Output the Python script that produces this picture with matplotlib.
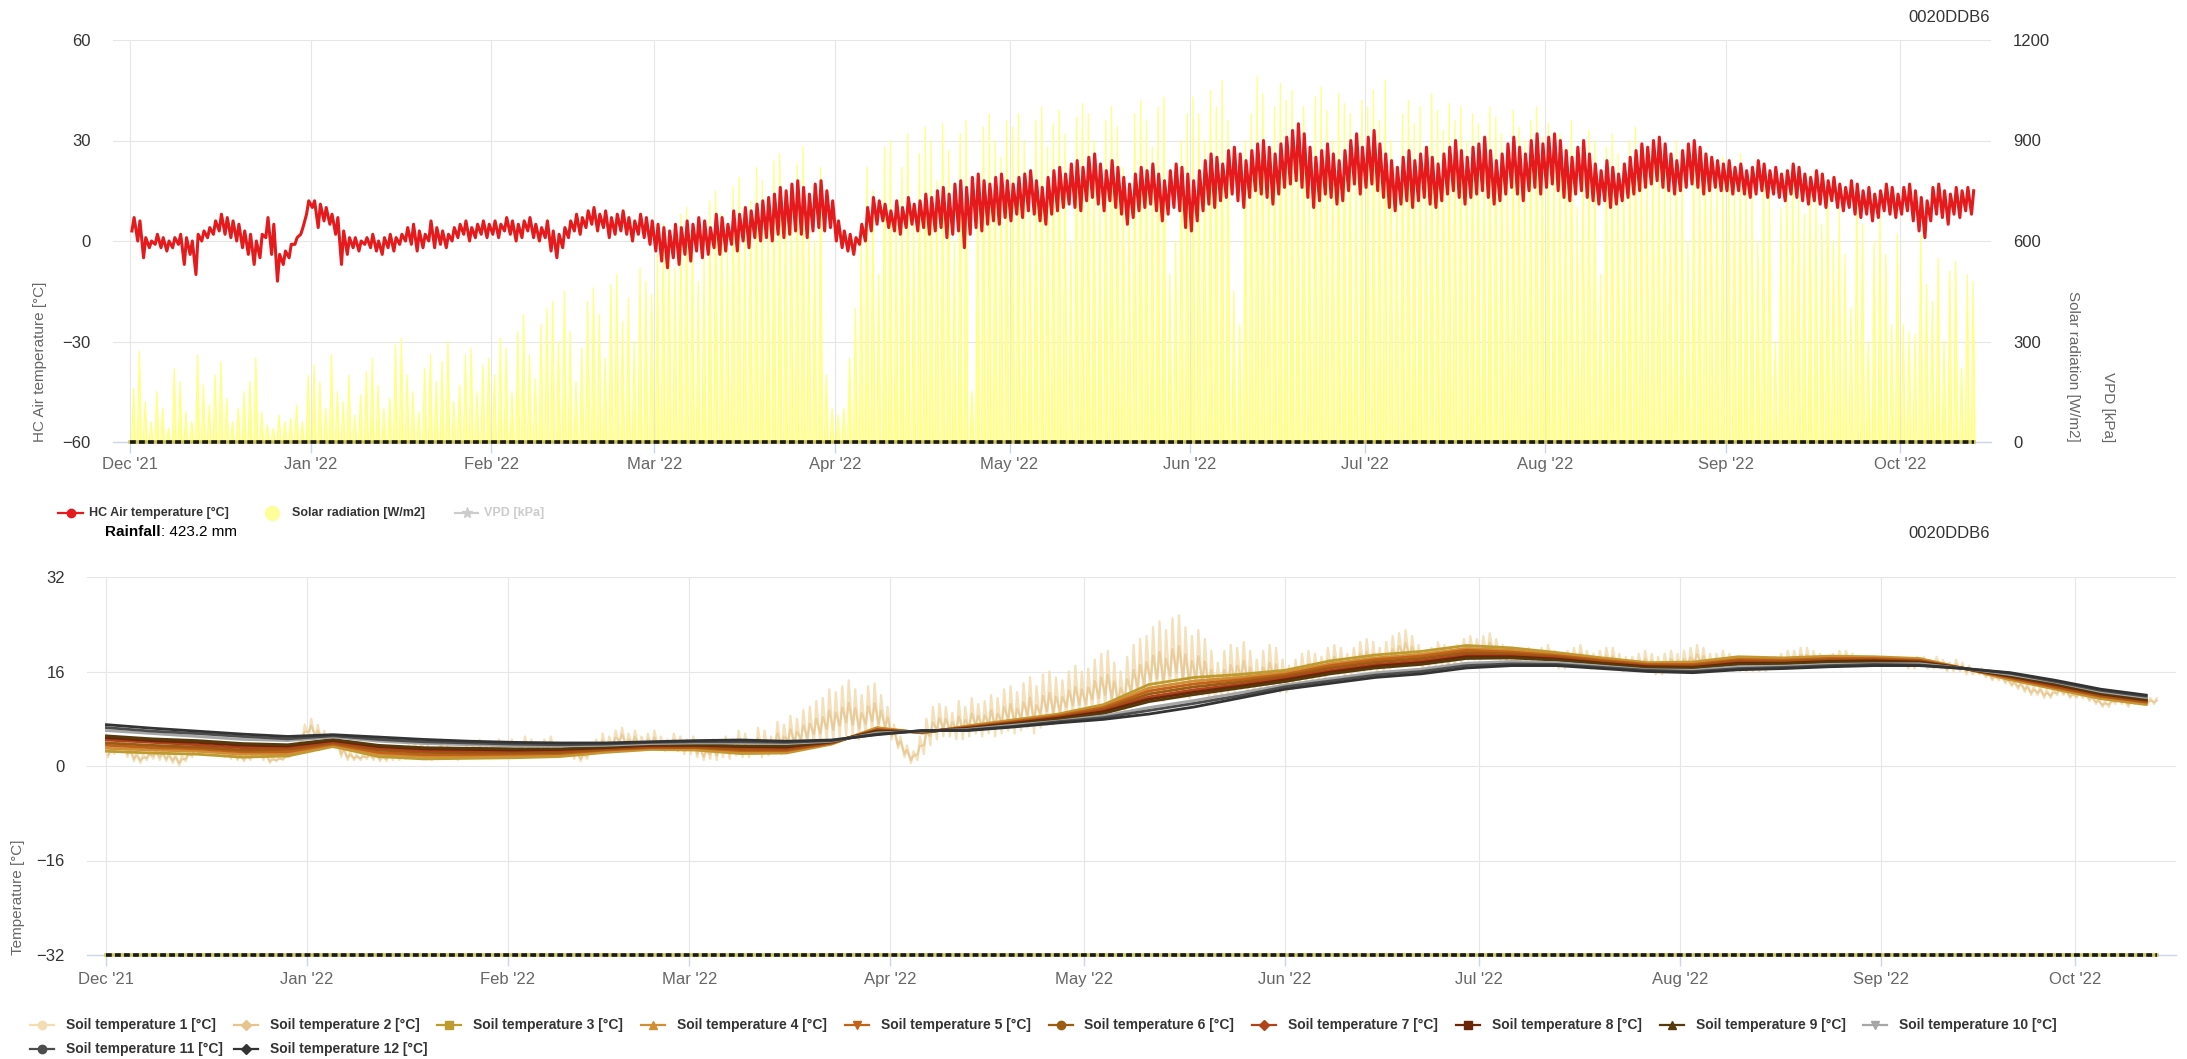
import numpy as np
import pandas as pd
import matplotlib
matplotlib.use("Agg")
import matplotlib.pyplot as plt
import matplotlib.dates as mdates

plt.rcParams['font.family'] = ['Liberation Sans', 'DejaVu Sans']

# --- data ---
START = '2021-12-01'
STATION = '0020DDB6'
RAINFALL_MM = 423.2

# HC air temperature, daily high / low [°C]  (Dec .. Oct 13)
AIR_HI = [
    7, 6, 1, 0, 2, 1, 0, 1, 2, 1, 0, 2, 3, 4, 6, 8, 7, 6, 5, 3, 2, 0, 2, 7, 5, -4, -3, -1, 1, 4, 12,
    12, 11, 10, 8, 7, 3, 1, 1, 0, 1, 2, 0, 1, 2, 1, 2, 4, 5, 3, 2, 6, 4, 3, 2, 4, 5, 6, 4, 5, 6, 5,
    6, 5, 7, 6, 5, 6, 7, 5, 4, 6, 3, 2, 4, 6, 8, 7, 9, 10, 8, 9, 7, 8, 9, 7, 6, 8, 7, 6,
    5, 4, 3, 5, 4, 6, 5, 7, 6, 4, 8, 7, 5, 9, 8, 10, 9, 11, 12, 13, 14, 16, 15, 17, 18, 16, 14, 17, 18, 15, 12,
    6, 3, 2, 1, 5, 10, 13, 12, 11, 9, 12, 10, 13, 11, 12, 14, 13, 15, 16, 14, 17, 18, 16, 19, 20, 18, 17, 19, 20, 18,
    17, 19, 20, 21, 18, 16, 19, 21, 22, 20, 23, 24, 22, 25, 26, 23, 21, 24, 22, 19, 17, 20, 22, 21, 23, 20, 18, 21, 23, 22, 20,
    18, 21, 24, 26, 25, 23, 27, 28, 26, 24, 27, 29, 30, 28, 26, 29, 31, 33, 35, 32, 28, 25, 27, 29, 26, 24, 27, 30, 32, 28,
    31, 33, 29, 26, 24, 22, 25, 27, 24, 26, 28, 25, 23, 26, 28, 30, 27, 25, 28, 29, 31, 27, 24, 26, 29, 31, 28, 26, 30, 32, 29,
    31, 32, 30, 27, 25, 28, 30, 26, 23, 21, 24, 22, 20, 23, 25, 27, 29, 28, 30, 31, 29, 26, 24, 27, 29, 30, 28, 26, 25, 24, 23,
    24, 22, 23, 21, 22, 24, 23, 21, 22, 20, 21, 23, 22, 20, 19, 21, 20, 18, 19, 17, 16, 18, 17, 15, 16, 14, 15, 17, 16, 14,
    16, 17, 15, 13, 12, 16, 17, 15, 14, 16, 15, 16, 15,
]
AIR_LO = [
    3, 0, -5, -2, -1, -2, -3, -2, -1, -7, -4, -10, 0, 1, 2, 3, 2, 1, 0, -2, -4, -7, -5, 1, -4, -12, -7, -5, -1, 2, 8,
    10, 4, 6, 5, 2, -7, -4, -2, -3, -1, -2, -3, -4, -2, -3, -1, 0, -1, -3, -2, 0, -2, -1, -2, 0, 1, 2, 0, 1, 2, 1,
    2, 1, 3, 2, 0, 1, 3, 1, 0, 1, -3, -5, -2, 1, 3, 2, 4, 5, 3, 4, 1, 2, 3, 2, 0, 2, 1, -1,
    -3, -6, -8, -5, -7, -4, -6, -3, -5, -4, -2, -4, -3, -1, -3, 0, -2, 1, 0, 1, 0, 2, 1, 2, 3, 2, 1, 3, 4, 3, 4,
    0, -2, -3, -4, -1, 0, 3, 5, 6, 4, 3, 2, 4, 5, 3, 4, 2, 3, 4, 1, 2, 3, -2, 2, 4, 3, 5, 6, 5, 7,
    6, 8, 7, 9, 8, 6, 5, 8, 9, 10, 11, 10, 9, 12, 13, 11, 9, 12, 10, 8, 5, 7, 9, 10, 11, 9, 6, 8, 10, 9, 4,
    3, 6, 9, 11, 10, 12, 13, 14, 12, 10, 13, 15, 14, 13, 11, 14, 16, 17, 18, 16, 13, 10, 12, 14, 13, 11, 12, 15, 17, 14,
    16, 17, 15, 13, 10, 9, 11, 12, 10, 12, 13, 11, 10, 12, 14, 15, 13, 11, 13, 14, 15, 13, 11, 12, 14, 16, 14, 12, 15, 16, 14,
    16, 17, 15, 13, 12, 14, 15, 13, 12, 11, 12, 10, 11, 12, 13, 14, 15, 16, 17, 18, 16, 15, 14, 15, 16, 17, 16, 14, 15, 16, 15,
    15, 14, 15, 14, 13, 14, 15, 13, 14, 13, 12, 14, 13, 12, 11, 12, 11, 10, 12, 10, 9, 10, 8, 7, 8, 6, 7, 9, 8, 7,
    8, 9, 6, 3, 1, 6, 8, 7, 5, 8, 7, 9, 8,
]

# Solar radiation, daily peak [W/m2]
SOLAR_PEAK = [
    160, 270, 120, 60, 150, 100, 40, 220, 180, 90, 60, 260, 170, 110, 200, 240, 130, 60, 100, 150, 180, 250, 90, 50, 40, 80, 60, 70, 110, 60, 200,
    230, 180, 100, 260, 150, 120, 200, 80, 140, 210, 250, 170, 100, 130, 290, 310, 200, 150, 90, 220, 260, 180, 240, 300, 120, 170, 260, 280, 150, 230, 250,
    200, 310, 280, 150, 330, 380, 260, 190, 350, 400, 420, 300, 450, 330, 180, 280, 420, 460, 380, 250, 470, 500, 360, 430, 300, 520, 480, 440,
    560, 650, 600, 520, 680, 700, 620, 480, 550, 720, 750, 680, 590, 760, 790, 640, 720, 820, 780, 700, 840, 860, 750, 700, 830, 880, 650, 600, 820, 200, 100,
    80, 100, 250, 400, 600, 820, 750, 500, 880, 900, 700, 820, 920, 650, 860, 940, 900, 780, 950, 870, 600, 920, 960, 150, 750, 940, 980, 900, 850, 960,
    940, 980, 900, 700, 960, 1000, 880, 950, 990, 920, 600, 970, 1010, 980, 900, 750, 960, 1000, 940, 820, 700, 980, 1020, 960, 880, 1000, 1030, 500, 600, 900, 980,
    1030, 980, 900, 1050, 1000, 1080, 960, 450, 350, 900, 980, 1090, 1040, 880, 1000, 1070, 1020, 1050, 950, 1000, 780, 1030, 1060, 990, 900, 1040, 1010, 980, 850, 1020,
    1000, 1050, 960, 1080, 900, 800, 980, 1020, 950, 1000, 870, 1040, 990, 930, 1010, 960, 1000, 900, 980, 950, 880, 1000, 970, 920, 860, 990, 940, 900, 960, 1000, 910,
    950, 900, 920, 880, 960, 700, 850, 930, 900, 500, 880, 920, 860, 800, 900, 940, 870, 820, 900, 880, 860, 750, 900, 840, 600, 880, 820, 860, 800, 780, 850,
    820, 780, 860, 800, 750, 600, 820, 780, 300, 700, 760, 820, 740, 680, 800, 720, 650, 780, 600, 700, 560, 400, 720, 650, 300, 600, 680, 560, 350, 620,
    350, 330, 320, 620, 470, 420, 550, 300, 510, 540, 220, 500, 480,
]

# Soil temperature 1 and 2 (shallow), daily high / low [°C]
SOIL1_HI = [
    3.0, 4.5, 4.8, 3.5, 2.5, 2.0, 2.5, 3.0, 2.8, 2.5, 2.2, 1.8, 2.5, 3.5, 4.0, 4.2, 3.8, 3.5, 3.0, 2.5, 2.2, 2.0, 2.5, 3.0, 2.5, 1.5, 1.5, 1.8, 2.5, 4.0, 7.0,
    8.0, 7.0, 6.0, 5.5, 5.0, 3.5, 2.5, 2.0, 2.0, 2.2, 2.5, 2.0, 2.2, 3.0, 2.5, 3.5, 4.0, 4.5, 3.5, 3.0, 4.5, 3.5, 3.0, 2.8, 3.5, 4.0, 4.5, 3.5, 4.0, 4.5, 4.0,
    4.5, 4.0, 5.0, 4.5, 4.0, 4.5, 5.0, 4.0, 3.5, 4.0, 3.0, 2.5, 3.5, 4.5, 5.5, 5.0, 6.0, 6.5, 5.5, 6.0, 5.0, 5.5, 6.0, 5.0, 4.5, 5.5, 5.0, 4.5,
    5.0, 4.0, 3.5, 4.5, 4.0, 5.0, 4.5, 6.0, 5.5, 4.0, 6.5, 6.0, 5.0, 7.5, 7.0, 8.5, 8.0, 9.5, 10.0, 11.0, 11.5, 13.0, 12.5, 13.5, 14.5, 13.0, 12.0, 13.5, 14.0, 12.0, 10.0,
    7.0, 5.0, 3.5, 2.5, 5.0, 8.0, 10.0, 10.5, 10.0, 9.0, 11.0, 10.0, 11.5, 10.5, 11.0, 12.0, 11.5, 13.0, 13.5, 12.5, 14.0, 15.0, 13.5, 15.5, 16.0, 15.0, 14.5, 16.0, 17.0, 16.0,
    16.5, 18.0, 19.0, 19.5, 17.5, 16.0, 18.5, 20.5, 21.5, 22.0, 23.5, 24.5, 23.0, 25.0, 25.5, 23.5, 22.0, 23.0, 21.5, 19.5, 17.5, 19.5, 20.5, 20.0, 21.0, 19.5, 18.0, 19.5, 20.5, 20.0, 18.0,
    17.0, 18.0, 19.0, 19.5, 19.0, 18.5, 20.0, 20.5, 20.0, 19.0, 20.0, 21.0, 21.5, 21.0, 20.0, 21.0, 22.0, 22.5, 23.0, 22.0, 20.5, 19.5, 20.0, 21.0, 20.5, 20.0, 20.5, 21.5, 22.0, 21.5,
    22.0, 22.5, 21.5, 20.5, 19.5, 19.0, 19.5, 20.0, 19.5, 20.0, 20.5, 19.5, 19.0, 19.5, 20.0, 20.5, 19.5, 19.0, 19.5, 20.0, 20.0, 19.0, 18.5, 18.5, 19.0, 19.5, 19.0, 18.5, 19.0, 19.5, 19.0,
    19.5, 20.0, 20.5, 20.0, 19.0, 19.0, 19.5, 19.0, 18.0, 17.5, 18.0, 17.5, 17.5, 18.0, 18.5, 19.0, 19.5, 19.5, 20.0, 20.0, 19.5, 19.0, 18.5, 19.0, 19.5, 19.5, 19.0, 18.5, 18.5, 18.0, 18.0,
    18.5, 18.0, 18.5, 18.0, 18.0, 18.5, 18.5, 18.0, 18.5, 18.0, 17.5, 18.0, 17.5, 17.0, 16.5, 16.5, 16.0, 15.5, 15.5, 15.0, 14.5, 14.5, 14.0, 13.5, 13.5, 13.0, 13.0, 13.5, 13.0, 12.5,
    12.5, 12.5, 12.0, 11.5, 11.0, 11.5, 12.0, 11.5, 11.5, 12.0, 11.5, 11.5, 11.5,
]
SOIL1_LO = [
    1.5, 2.0, 2.5, 1.5, 0.8, 0.5, 1.0, 1.2, 1.0, 0.8, 0.5, 0.0, 0.8, 1.5, 2.0, 2.5, 2.2, 2.0, 1.5, 1.2, 1.0, 0.8, 1.0, 1.5, 1.0, 0.5, 0.8, 1.0, 1.5, 2.5, 4.0,
    5.0, 4.5, 4.0, 3.5, 3.0, 1.5, 1.0, 1.0, 1.0, 1.2, 1.0, 0.8, 0.8, 1.0, 1.0, 1.2, 1.5, 1.5, 1.2, 1.0, 1.5, 1.2, 1.2, 1.0, 1.5, 1.8, 2.0, 1.8, 2.0, 2.2, 2.0,
    2.2, 2.0, 2.5, 2.2, 2.0, 2.0, 2.5, 2.0, 1.8, 1.8, 1.2, 0.8, 1.2, 2.0, 2.5, 2.5, 3.0, 3.5, 3.0, 3.2, 2.8, 3.0, 3.0, 2.8, 2.5, 2.8, 2.5, 2.0,
    2.0, 1.5, 1.0, 1.2, 1.0, 1.5, 1.2, 1.8, 1.5, 1.5, 2.0, 1.5, 1.8, 2.5, 2.0, 2.8, 2.5, 3.0, 3.0, 3.5, 3.5, 4.0, 4.0, 4.5, 5.0, 5.0, 4.5, 5.0, 5.5, 5.5, 5.5,
    4.5, 3.0, 1.5, 0.5, 1.0, 2.0, 3.5, 4.5, 5.0, 5.0, 4.5, 4.5, 5.0, 5.5, 5.0, 5.5, 5.0, 5.5, 6.0, 5.5, 6.0, 6.5, 5.5, 6.5, 7.0, 7.0, 7.5, 8.0, 8.0, 8.5,
    8.5, 9.0, 9.0, 9.5, 9.5, 9.0, 9.0, 10.0, 10.5, 11.0, 11.5, 11.5, 11.0, 12.0, 12.5, 12.0, 11.5, 12.0, 12.0, 11.5, 11.0, 11.5, 12.0, 12.5, 13.0, 12.5, 12.0, 12.5, 13.0, 13.0, 12.5,
    12.5, 13.0, 13.5, 14.0, 14.5, 14.5, 15.0, 15.5, 15.5, 15.0, 15.5, 16.0, 16.0, 16.0, 15.5, 16.0, 16.5, 17.0, 17.5, 17.5, 17.0, 16.5, 16.5, 17.0, 17.0, 16.5, 17.0, 17.5, 18.0, 18.0,
    18.0, 18.5, 18.5, 18.0, 17.5, 17.0, 17.0, 17.5, 17.0, 17.0, 17.5, 17.0, 16.5, 16.5, 17.0, 17.0, 17.0, 16.5, 16.5, 16.5, 16.5, 16.5, 16.0, 16.0, 16.0, 16.0, 16.0, 15.5, 15.5, 16.0, 16.0,
    16.0, 16.0, 16.5, 16.5, 16.0, 16.0, 16.5, 16.5, 16.0, 16.0, 16.0, 16.0, 16.0, 16.0, 16.5, 16.5, 16.5, 17.0, 17.0, 17.0, 17.0, 17.0, 17.0, 17.0, 17.0, 17.5, 17.5, 17.0, 17.0, 17.0, 17.0,
    17.0, 17.0, 17.0, 17.0, 16.5, 16.5, 17.0, 16.5, 16.5, 16.5, 16.0, 16.0, 16.0, 15.5, 15.5, 15.5, 15.0, 14.5, 14.5, 14.0, 13.5, 13.0, 12.5, 12.0, 12.0, 11.5, 11.5, 12.0, 12.0, 11.5,
    11.5, 11.5, 11.0, 10.5, 10.0, 10.0, 10.5, 10.5, 10.0, 10.5, 10.5, 10.5, 10.5,
]
SOIL2_HI = [
    2.4, 3.5, 3.9, 2.7, 1.8, 1.4, 1.9, 2.3, 2.1, 1.8, 1.5, 1.1, 1.8, 2.7, 3.2, 3.5, 3.2, 2.9, 2.4, 2.0, 1.7, 1.5, 1.9, 2.4, 1.9, 1.1, 1.2, 1.5, 2.1, 3.4, 5.8,
    6.8, 6.0, 5.2, 4.7, 4.2, 2.7, 1.9, 1.6, 1.6, 1.8, 1.9, 1.5, 1.6, 2.2, 1.9, 2.6, 3.0, 3.3, 2.6, 2.2, 3.3, 2.6, 2.3, 2.1, 2.7, 3.1, 3.5, 2.8, 3.2, 3.6, 3.2,
    3.6, 3.2, 4.0, 3.6, 3.2, 3.5, 4.0, 3.2, 2.8, 3.1, 2.3, 1.8, 2.6, 3.5, 4.3, 4.0, 4.8, 5.3, 4.5, 4.9, 4.1, 4.5, 4.8, 4.1, 3.7, 4.4, 4.0, 3.5,
    3.8, 3.0, 2.5, 3.2, 2.8, 3.6, 3.2, 4.3, 3.9, 3.0, 4.7, 4.2, 3.7, 5.5, 5.0, 6.2, 5.8, 6.9, 7.2, 8.0, 8.3, 9.4, 9.1, 9.9, 10.7, 9.8, 9.0, 10.1, 10.6, 9.4, 8.2,
    6.0, 4.2, 2.7, 1.7, 3.4, 5.6, 7.4, 8.1, 8.0, 7.4, 8.4, 7.8, 8.9, 8.5, 8.6, 9.4, 8.9, 10.0, 10.5, 9.7, 10.8, 11.6, 10.3, 11.9, 12.4, 11.8, 11.7, 12.8, 13.4, 13.0,
    13.3, 14.4, 15.0, 15.5, 14.3, 13.2, 14.7, 16.3, 17.1, 17.6, 18.7, 19.3, 18.2, 19.8, 20.3, 18.9, 17.8, 18.6, 17.7, 16.3, 14.9, 16.3, 17.1, 17.0, 17.8, 16.7, 15.6, 16.7, 17.5, 17.2, 15.8,
    15.2, 16.0, 16.8, 17.3, 17.2, 16.9, 18.0, 18.5, 18.2, 17.4, 18.2, 19.0, 19.3, 19.0, 18.2, 19.0, 19.8, 20.3, 20.8, 20.2, 19.1, 18.3, 18.6, 19.4, 19.1, 18.6, 19.1, 19.9, 20.4, 20.1,
    20.4, 20.9, 20.3, 19.5, 18.7, 18.2, 18.5, 19.0, 18.5, 18.8, 19.3, 18.5, 18.0, 18.3, 18.8, 19.1, 18.5, 18.0, 18.3, 18.6, 18.6, 18.0, 17.5, 17.5, 17.8, 18.1, 17.8, 17.3, 17.6, 18.1, 17.8,
    18.1, 18.4, 18.9, 18.6, 17.8, 17.8, 18.3, 18.0, 17.2, 16.9, 17.2, 16.9, 16.9, 17.2, 17.7, 18.0, 18.3, 18.5, 18.8, 18.8, 18.5, 18.2, 17.9, 18.2, 18.5, 18.7, 18.4, 17.9, 17.9, 17.6, 17.6,
    17.9, 17.6, 17.9, 17.6, 17.4, 17.7, 17.9, 17.4, 17.7, 17.4, 16.9, 17.2, 16.9, 16.4, 16.1, 16.1, 15.6, 15.1, 15.1, 14.6, 14.1, 13.9, 13.4, 12.9, 12.9, 12.4, 12.4, 12.9, 12.6, 12.1,
    12.1, 12.1, 11.6, 11.1, 10.6, 10.9, 11.4, 11.1, 10.9, 11.4, 11.1, 11.1, 11.1,
]
SOIL2_LO = [
    1.9, 2.6, 3.1, 2.0, 1.2, 0.9, 1.4, 1.7, 1.5, 1.2, 0.9, 0.5, 1.2, 2.0, 2.5, 2.9, 2.6, 2.4, 1.9, 1.5, 1.3, 1.1, 1.4, 1.9, 1.4, 0.8, 1.0, 1.2, 1.8, 2.9, 4.8,
    5.8, 5.1, 4.5, 4.0, 3.5, 2.0, 1.4, 1.3, 1.3, 1.5, 1.4, 1.1, 1.2, 1.5, 1.4, 1.8, 2.1, 2.3, 1.8, 1.5, 2.3, 1.8, 1.7, 1.5, 2.0, 2.4, 2.6, 2.2, 2.5, 2.8, 2.5,
    2.8, 2.5, 3.1, 2.8, 2.5, 2.6, 3.1, 2.5, 2.2, 2.4, 1.7, 1.2, 1.8, 2.6, 3.3, 3.1, 3.8, 4.3, 3.6, 3.9, 3.4, 3.6, 3.8, 3.4, 3.0, 3.5, 3.1, 2.6,
    2.8, 2.1, 1.6, 2.0, 1.8, 2.4, 2.0, 2.9, 2.5, 2.1, 3.1, 2.6, 2.6, 3.8, 3.3, 4.2, 3.9, 4.6, 4.8, 5.4, 5.5, 6.3, 6.1, 6.8, 7.4, 7.0, 6.4, 7.1, 7.6, 7.1, 6.6,
    5.1, 3.5, 2.0, 1.0, 2.0, 3.5, 5.1, 6.0, 6.3, 6.0, 6.1, 5.9, 6.6, 6.8, 6.5, 7.1, 6.6, 7.4, 7.9, 7.3, 8.0, 8.6, 7.5, 8.8, 9.3, 9.0, 9.3, 10.0, 10.3, 10.4,
    10.5, 11.3, 11.5, 12.0, 11.5, 10.8, 11.4, 12.6, 13.3, 13.8, 14.5, 14.8, 14.0, 15.3, 15.8, 14.9, 14.1, 14.8, 14.4, 13.5, 12.6, 13.5, 14.1, 14.4, 15.0, 14.3, 13.5, 14.3, 14.9, 14.8, 13.9,
    13.6, 14.3, 14.9, 15.4, 15.6, 15.5, 16.3, 16.8, 16.6, 16.0, 16.6, 17.3, 17.4, 17.3, 16.6, 17.3, 17.9, 18.4, 18.9, 18.6, 17.9, 17.3, 17.4, 18.0, 17.9, 17.4, 17.9, 18.5, 19.0, 18.9,
    19.0, 19.5, 19.3, 18.6, 18.0, 17.5, 17.6, 18.1, 17.6, 17.8, 18.3, 17.6, 17.1, 17.3, 17.8, 17.9, 17.6, 17.1, 17.3, 17.4, 17.4, 17.1, 16.6, 16.6, 16.8, 16.9, 16.8, 16.3, 16.4, 16.9, 16.8,
    16.9, 17.0, 17.5, 17.4, 16.8, 16.8, 17.3, 17.1, 16.5, 16.4, 16.5, 16.4, 16.4, 16.5, 17.0, 17.1, 17.3, 17.6, 17.8, 17.8, 17.6, 17.5, 17.4, 17.5, 17.6, 18.0, 17.9, 17.4, 17.4, 17.3, 17.3,
    17.4, 17.3, 17.4, 17.3, 16.9, 17.0, 17.4, 16.9, 17.0, 16.9, 16.4, 16.5, 16.4, 15.9, 15.8, 15.8, 15.3, 14.8, 14.8, 14.3, 13.8, 13.4, 12.9, 12.4, 12.4, 11.9, 11.9, 12.4, 12.3, 11.8,
    11.8, 11.8, 11.3, 10.8, 10.3, 10.4, 10.9, 10.8, 10.4, 10.9, 10.8, 10.8, 10.8,
]

# Soil temperature 3..12, weekly values (Dec 1, Dec 8, ... Oct 12) [°C]
SOIL3 = [2.5, 2.2, 2.0, 1.5, 1.7, 3.3, 1.6, 1.2, 1.3, 1.4, 1.6, 2.3, 2.8, 2.7, 2.1, 2.2, 3.7, 6.5, 5.6, 6.8, 7.8, 8.8, 10.4, 13.8, 15.0, 15.5, 16.2, 17.8, 18.8, 19.4, 20.4, 20.0, 19.2, 18.3, 17.5, 17.6, 18.5, 18.3, 18.6, 18.5, 18.2, 16.5, 14.6, 13.0, 11.4, 10.4]
SOIL4 = [3.0, 2.7, 2.5, 2.0, 2.1, 3.5, 2.0, 1.6, 1.6, 1.7, 1.9, 2.5, 3.0, 2.9, 2.4, 2.4, 3.8, 6.4, 5.6, 6.7, 7.7, 8.6, 10.1, 13.2, 14.4, 15.0, 15.8, 17.3, 18.3, 18.9, 19.9, 19.6, 18.9, 18.1, 17.3, 17.4, 18.2, 18.1, 18.4, 18.3, 18.1, 16.5, 14.7, 13.2, 11.6, 10.6]
SOIL5 = [3.5, 3.1, 2.9, 2.4, 2.4, 3.7, 2.3, 1.9, 1.9, 2.0, 2.1, 2.7, 3.1, 3.1, 2.6, 2.6, 3.9, 6.2, 5.7, 6.6, 7.5, 8.5, 9.9, 12.7, 13.9, 14.6, 15.5, 17.0, 18.0, 18.6, 19.6, 19.3, 18.7, 17.9, 17.2, 17.2, 18.0, 17.9, 18.2, 18.2, 17.9, 16.5, 14.9, 13.3, 11.8, 10.8]
SOIL6 = [3.9, 3.5, 3.2, 2.7, 2.8, 3.9, 2.7, 2.3, 2.2, 2.2, 2.3, 2.8, 3.2, 3.2, 2.8, 2.8, 3.9, 6.1, 5.7, 6.5, 7.4, 8.3, 9.6, 12.2, 13.4, 14.2, 15.2, 16.6, 17.6, 18.2, 19.2, 19.0, 18.5, 17.7, 17.0, 17.0, 17.8, 17.7, 18.0, 18.0, 17.8, 16.5, 15.0, 13.5, 11.9, 10.9]
SOIL7 = [4.4, 4.0, 3.6, 3.1, 3.1, 4.1, 3.0, 2.6, 2.5, 2.5, 2.6, 3.0, 3.3, 3.4, 3.1, 3.0, 4.0, 6.0, 5.8, 6.5, 7.3, 8.2, 9.4, 11.7, 12.9, 13.8, 14.9, 16.2, 17.2, 17.8, 18.8, 18.7, 18.3, 17.5, 16.9, 16.8, 17.6, 17.5, 17.8, 17.9, 17.7, 16.5, 15.1, 13.6, 12.1, 11.1]
SOIL8 = [4.8, 4.3, 4.0, 3.5, 3.4, 4.3, 3.3, 2.9, 2.8, 2.7, 2.8, 3.1, 3.5, 3.5, 3.3, 3.2, 4.1, 5.9, 5.8, 6.4, 7.2, 8.1, 9.2, 11.3, 12.5, 13.5, 14.6, 15.9, 16.9, 17.5, 18.5, 18.5, 18.1, 17.4, 16.8, 16.7, 17.4, 17.4, 17.7, 17.8, 17.6, 16.5, 15.2, 13.8, 12.2, 11.2]
SOIL9 = [5.1, 4.6, 4.3, 3.8, 3.6, 4.5, 3.5, 3.1, 3.0, 2.9, 2.9, 3.2, 3.6, 3.6, 3.4, 3.4, 4.1, 5.8, 5.8, 6.3, 7.1, 7.9, 8.9, 10.9, 12.1, 13.2, 14.3, 15.6, 16.6, 17.2, 18.2, 18.3, 17.9, 17.3, 16.6, 16.6, 17.2, 17.3, 17.6, 17.6, 17.5, 16.5, 15.3, 13.9, 12.3, 11.3]
SOIL10 = [6.0, 5.5, 5.0, 4.5, 4.3, 4.9, 4.2, 3.8, 3.6, 3.4, 3.4, 3.5, 3.8, 3.9, 3.9, 3.8, 4.2, 5.6, 5.9, 6.2, 6.9, 7.6, 8.5, 9.9, 11.1, 12.4, 13.7, 14.8, 15.8, 16.4, 17.4, 17.7, 17.5, 16.9, 16.3, 16.2, 16.8, 16.9, 17.2, 17.3, 17.3, 16.5, 15.5, 14.2, 12.6, 11.6]
SOIL11 = [6.5, 5.9, 5.5, 5.0, 4.6, 5.1, 4.5, 4.1, 3.9, 3.7, 3.6, 3.7, 4.0, 4.1, 4.1, 4.0, 4.3, 5.4, 6.0, 6.1, 6.7, 7.5, 8.2, 9.4, 10.6, 11.9, 13.4, 14.4, 15.4, 16.0, 17.0, 17.3, 17.2, 16.7, 16.2, 16.0, 16.5, 16.7, 17.0, 17.2, 17.1, 16.5, 15.7, 14.3, 12.8, 11.8]
SOIL12 = [7.0, 6.4, 5.9, 5.4, 5.0, 5.3, 4.9, 4.5, 4.2, 4.0, 3.9, 3.9, 4.1, 4.3, 4.4, 4.2, 4.4, 5.3, 6.0, 6.0, 6.6, 7.3, 7.9, 8.8, 10.0, 11.5, 13.0, 14.0, 15.0, 15.6, 16.6, 17.0, 17.0, 16.5, 16.0, 15.8, 16.3, 16.5, 16.8, 17.0, 17.0, 16.5, 15.8, 14.5, 13.0, 12.0]

SOIL_LABELS = ['Soil temperature %d [°C]' % i for i in range(1, 13)]
SOIL_COLORS = ['#F3DDB4', '#E5C48D', '#BE9B2F', '#D08F35', '#C2611A', '#9C5B12',
               '#B1431B', '#6B2509', '#573A0C', '#A6A6A6', '#4D4D4D', '#333333']
SOIL_MARKERS = ['o', 'D', 's', '^', 'v', 'o', 'D', 's', '^', 'v', 'o', 'D']

n = len(AIR_HI)
for lst in (AIR_LO, SOLAR_PEAK, SOIL1_HI, SOIL1_LO, SOIL2_HI, SOIL2_LO):
    assert len(lst) == n, len(lst)
weekly = [SOIL3, SOIL4, SOIL5, SOIL6, SOIL7, SOIL8, SOIL9, SOIL10, SOIL11, SOIL12]
for lst in weekly:
    assert len(lst) == 46, len(lst)

# --- time axes ---
t0 = mdates.date2num(pd.Timestamp(START))
day = t0 + np.arange(n)
week = t0 + 7 * np.arange(46)


def diurnal(lo, hi):
    # low early morning, high mid afternoon
    x = np.column_stack([day + 0.25, day + 0.625]).ravel()
    y = np.column_stack([lo, hi]).ravel()
    return x, y


W, H = 2187, 1059
fig = plt.figure(figsize=(W / 100, H / 100), dpi=100)
fig.patch.set_facecolor('white')

GRID = '#E6E6E6'
AXLINE = '#CCD6EB'
XMIN, XMAX = t0 - 3, t0 + 319.6


def style_x(ax, pad):
    ax.set_xlim(XMIN, XMAX)
    ax.xaxis.set_major_locator(mdates.MonthLocator())
    ax.xaxis.set_major_formatter(mdates.DateFormatter("%b '%y"))
    ax.tick_params(axis='x', length=8, width=1, color=AXLINE, labelsize=12,
                   labelcolor='#666666', pad=pad)
    for s in ('top', 'left', 'right'):
        ax.spines[s].set_visible(False)
    ax.spines['bottom'].set_color(AXLINE)
    ax.spines['bottom'].set_linewidth(1)


def baseline(ax, y, z):
    xs = [day[0], day[-1] + 0.7]
    ax.plot(xs, [y, y], color='#CFC65A', lw=2.6, clip_on=False, zorder=z)
    ax.plot(xs, [y, y], color='#1A1A1A', lw=2.6, ls=(0, (1.6, 0.9)),
            clip_on=False, zorder=z + 1)


# ---------- top chart: air temperature + solar radiation ----------
ax_t = fig.add_axes([113 / W, 1 - 442 / H, 1878 / W, 402 / H])
ax_s = ax_t.twinx()
ax_t.set_zorder(2)
ax_s.set_zorder(1)
ax_t.patch.set_visible(False)

ax_s.set_ylim(0, 1200)
ax_s.set_yticks([0, 300, 600, 900, 1200])
ax_s.xaxis.set_visible(True)
ax_s.tick_params(axis='x', bottom=False, labelbottom=False, top=False)
ax_s.tick_params(axis='y', length=0, labelsize=12, labelcolor='#333333', pad=16)
ax_s.grid(True, color=GRID, lw=0.8)
ax_s.set_axisbelow(True)
for s in ax_s.spines.values():
    s.set_visible(False)

# one broad daylight pulse per day
sx = np.column_stack([day + 0.20, day + 0.53, day + 0.84]).ravel()
sy = np.column_stack([np.zeros(n), SOLAR_PEAK, np.zeros(n)]).ravel()
ax_s.fill_between(sx, 0, sy, color='#FFFF99', alpha=0.95, lw=0)
ax_s.plot(sx, sy, color='#FFFF80', lw=0.9)

ax_t.set_ylim(-60, 60)
ax_t.set_yticks([-60, -30, 0, 30, 60])
ax_t.tick_params(axis='y', length=0, labelsize=12, labelcolor='#333333', pad=16)
style_x(ax_t, pad=3)
ax_x, ax_y = diurnal(AIR_LO, AIR_HI)
ax_t.plot(ax_x, ax_y, color='#E41A1C', lw=2.2, solid_joinstyle='round')
baseline(ax_t, -60, 5)

# ---------- bottom chart: soil temperatures ----------
ax_b = fig.add_axes([87 / W, 1 - 955 / H, 2089 / W, 378 / H])
ax_b.set_ylim(-32, 32)
ax_b.set_yticks([-32, -16, 0, 16, 32])
ax_b.tick_params(axis='y', length=0, labelsize=12, labelcolor='#333333', pad=16)
style_x(ax_b, pad=4)
ax_b.grid(True, color=GRID, lw=0.8)
ax_b.set_axisbelow(True)

x1, y1 = diurnal(SOIL1_LO, SOIL1_HI)
ax_b.plot(x1, y1, color=SOIL_COLORS[0], lw=1.6, alpha=0.9, zorder=3)
x2, y2 = diurnal(SOIL2_LO, SOIL2_HI)
ax_b.plot(x2, y2, color=SOIL_COLORS[1], lw=1.6, alpha=0.75, zorder=4)
for i, vals in enumerate(weekly):
    ax_b.plot(week, vals, color=SOIL_COLORS[i + 2], lw=2.0, zorder=5 + i)
baseline(ax_b, -32, 20)

# ---------- overlay for titles, axis titles and legends (pixel coords) ----------
ov = fig.add_axes([0, 0, 1, 1], zorder=10)
ov.set_xlim(0, W)
ov.set_ylim(H, 0)
ov.axis('off')

ov.text(1990, 17, STATION, ha='right', va='center', fontsize=12, color='#333333')
ov.text(1990, 533, STATION, ha='right', va='center', fontsize=12, color='#333333')

ov.text(40, 442, 'HC Air temperature [°C]', rotation=90, rotation_mode='anchor',
        ha='left', va='center', fontsize=11, color='#666666')
ov.text(2073, 442, 'Solar radiation [W/m2]', rotation=270, rotation_mode='anchor',
        ha='right', va='center', fontsize=11, color='#666666')
ov.text(2108, 442, 'VPD [kPa]', rotation=270, rotation_mode='anchor',
        ha='right', va='center', fontsize=11, color='#666666')
ov.text(18, 955, 'Temperature [°C]', rotation=90, rotation_mode='anchor',
        ha='left', va='center', fontsize=11, color='#666666')

# top legend
LY = 513
ov.plot([58, 83], [LY, LY], color='#E41A1C', lw=1.6)
ov.plot(70.5, LY, 'o', color='#E41A1C', ms=6)
ov.text(89, LY, 'HC Air temperature [°C]', va='center', fontsize=9, fontweight='bold', color='#333333')
ov.plot(272, LY, 'o', color='#FFFF99', ms=10)
ov.text(292, LY, 'Solar radiation [W/m2]', va='center', fontsize=9, fontweight='bold', color='#333333')
ov.plot([455, 478], [LY, LY], color='#CCCCCC', lw=1.6)
ov.plot(466.5, LY, '*', color='#CCCCCC', ms=8)
ov.text(484, LY, 'VPD [kPa]', va='center', fontsize=9, fontweight='bold', color='#CCCCCC')

rt = ov.text(105, 532, 'Rainfall', va='center', fontsize=11, fontweight='bold', color='#000000')
fig.canvas.draw()
bb = rt.get_window_extent(fig.canvas.get_renderer())
ov.text(bb.x1, 532, ': %.1f mm' % RAINFALL_MM, va='center', fontsize=11, color='#000000')

# bottom legend
LEG_FONT = ['Liberation Sans Narrow', 'Liberation Sans', 'DejaVu Sans']
for i, lab in enumerate(SOIL_LABELS):
    col = i if i < 10 else i - 10
    y = 1025 if i < 10 else 1049
    xm = 42 + 203.7 * col
    ov.plot([xm - 12, xm + 12], [y, y], color=SOIL_COLORS[i], lw=1.6)
    ov.plot(xm, y, SOIL_MARKERS[i], color=SOIL_COLORS[i], ms=6 if SOIL_MARKERS[i] != 'D' else 5)
    ov.text(xm + 24, y, lab, va='center', fontsize=10, fontweight='bold',
            color='#333333', family=LEG_FONT)

fig.savefig('out.png', dpi=100, facecolor='white')
